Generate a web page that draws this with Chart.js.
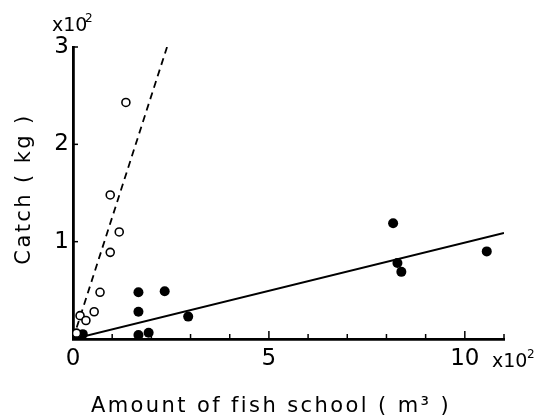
<!DOCTYPE html>
<html>
<head>
<meta charset="utf-8">
<script src="https://cdn.jsdelivr.net/npm/chart.js@4/dist/chart.umd.min.js"></script>
<style>
  html, body { margin: 0; padding: 0; background: #fff; }
  #wrap { width: 537px; height: 420px; }
</style>
</head>
<body>
<div id="wrap"><canvas id="grafico" width="537" height="420"></canvas></div>
<script>
// dados (x em 100 m3, y em 100 kg)
const abertosX = [0.09, 0.18, 0.33, 0.54, 0.69, 0.95, 0.95, 1.18, 1.35];
const abertosY = [0.06, 0.24, 0.19, 0.28, 0.48, 0.89, 1.48, 1.10, 2.43];

const cheiosX = [0.13, 0.25, 1.67, 1.67, 1.67, 1.93, 2.34, 2.94, 8.17, 8.28, 8.38, 10.56];
const cheiosY = [0.03, 0.05, 0.04, 0.28, 0.48, 0.065, 0.49, 0.23, 1.19, 0.78, 0.69, 0.90];

// retas de regressão (extremos)
const retaTracejadaX = [0, 2.4];
const retaTracejadaY = [0, 3.0];
const retaCheiaX = [0, 11];
const retaCheiaY = [0, 1.09];

const rotulosX = [0, 5, 10];
const rotulosY = [1, 2, 3];

const tituloX = 'Amount of fish school ( m³ )';
const tituloY = 'Catch ( kg )';

const pares = (xs, ys) => xs.map((x, i) => ({ x: x, y: ys[i] }));

const FONTE = '"DejaVu Sans", sans-serif';

// marcas de escala para dentro, "x10²" e títulos dos eixos (com espaçamento entre letras)
const marcasPlugin = {
  id: 'marcas',
  afterDraw(chart) {
    const c = chart.ctx;
    const sx = chart.scales.x;
    const sy = chart.scales.y;
    const base = sy.getPixelForValue(0);
    const esq = sx.getPixelForValue(0);
    c.save();
    c.strokeStyle = '#000';
    c.lineWidth = 1.5;
    for (let v = 1; v <= 11; v++) {
      const px = sx.getPixelForValue(v);
      const len = (v % 5 === 0) ? 8 : 5;
      c.beginPath();
      c.moveTo(px, base);
      c.lineTo(px, base - len);
      c.stroke();
    }
    rotulosY.forEach(v => {
      const py = sy.getPixelForValue(v);
      c.beginPath();
      c.moveTo(esq, py);
      c.lineTo(esq + 5, py);
      c.stroke();
    });
    c.fillStyle = '#000';
    c.textBaseline = 'alphabetic';
    c.textAlign = 'left';
    c.font = '19px ' + FONTE;
    c.fillText('x10', sx.getPixelForValue(11) - 12, base + 28);
    c.fillText('x10', esq - 21, sy.getPixelForValue(3) - 16);
    c.font = '12px ' + FONTE;
    c.fillText('2', sx.getPixelForValue(11) + 23, base + 19);
    c.fillText('2', esq + 12, sy.getPixelForValue(3) - 25);

    // títulos
    c.font = '21px ' + FONTE;
    c.letterSpacing = '2.4px';
    c.textAlign = 'center';
    c.fillText(tituloX, 271, 412);
    c.translate(30, 189);
    c.rotate(-Math.PI / 2);
    c.fillText(tituloY, 0, 0);
    c.restore();
  }
};

new Chart(document.getElementById('grafico').getContext('2d'), {
  type: 'scatter',
  data: {
    datasets: [
      {
        label: 'aberto',
        data: pares(abertosX, abertosY),
        pointStyle: 'circle',
        pointRadius: 4,
        pointBorderWidth: 1.6,
        pointBackgroundColor: '#fff',
        pointBorderColor: '#000'
      },
      {
        label: 'cheio',
        data: pares(cheiosX, cheiosY),
        pointStyle: 'circle',
        pointRadius: 5,
        pointBorderWidth: 0,
        pointBackgroundColor: '#000',
        pointBorderColor: '#000'
      },
      {
        label: 'tracejada',
        data: pares(retaTracejadaX, retaTracejadaY),
        showLine: true,
        borderColor: '#000',
        borderWidth: 1.8,
        borderDash: [7, 5],
        pointRadius: 0
      },
      {
        label: 'cheia',
        data: pares(retaCheiaX, retaCheiaY),
        showLine: true,
        borderColor: '#000',
        borderWidth: 2,
        pointRadius: 0
      }
    ]
  },
  options: {
    responsive: false,
    animation: false,
    layout: { padding: { left: 0, top: 47, right: 33, bottom: 0 } },
    plugins: {
      legend: { display: false },
      tooltip: { enabled: false }
    },
    scales: {
      x: {
        type: 'linear',
        min: 0,
        max: 11,
        afterFit: s => { s.height = 81; },
        grid: { display: false, drawTicks: false },
        border: { display: true, color: '#000', width: 2.8 },
        ticks: {
          stepSize: 1,
          autoSkip: false,
          maxRotation: 0,
          padding: 6,
          color: '#000',
          font: { family: FONTE, size: 23 },
          callback: v => rotulosX.includes(v) ? String(v) : ''
        },
        title: { display: false }
      },
      y: {
        type: 'linear',
        min: 0,
        max: 3,
        afterFit: s => { s.width = 73; },
        grid: { display: false, drawTicks: false },
        border: { display: true, color: '#000', width: 2.8 },
        ticks: {
          stepSize: 1,
          padding: 4,
          color: '#000',
          font: { family: FONTE, size: 23 },
          callback: v => rotulosY.includes(v) ? String(v) : ''
        },
        title: { display: false }
      }
    }
  },
  plugins: [marcasPlugin]
});
</script>
</body>
</html>
